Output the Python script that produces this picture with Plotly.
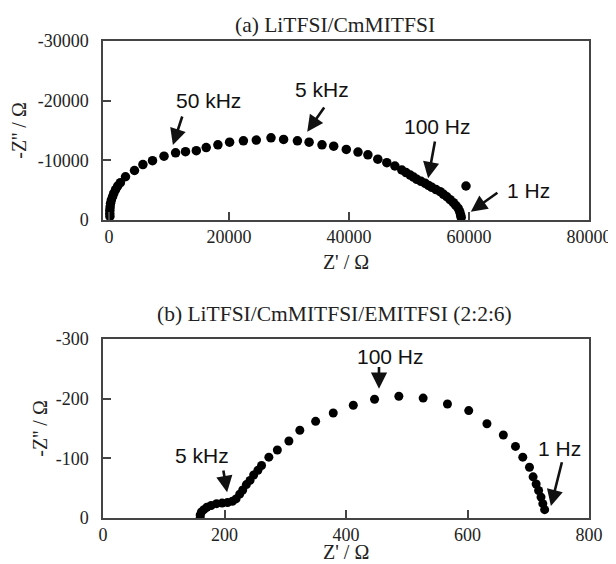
import plotly.graph_objects as go

# ---------------- data ----------------
# (a) LiTFSI/CmMITFSI
a_zre = [150, 130, 140, 190, 260, 390, 590, 790, 1100, 1450, 1900, 2750, 4250, 5650, 7250,
         9170, 11100, 12750, 14550, 16200, 18150, 20100, 22400, 24550, 27000, 29100, 31400,
         33350, 35500, 37450, 39550, 41500, 43150, 44800, 46300, 47650, 48800, 49500, 50200,
         50750, 51300, 52000, 52700, 53250, 53800, 54500, 55200, 55750, 56300, 56850, 57400,
         57800, 58200, 58450, 58600, 58700, 59500]
a_zim = [-600, -1100, -1650, -2200, -2800, -3350, -3900, -4450, -5100, -5700, -6250, -7250,
         -8300, -9300, -9950, -10700, -11270, -11450, -11620, -12150, -12600, -13050, -13280,
         -13400, -13780, -13500, -13280, -13050, -12600, -12380, -11820, -11380, -10930,
         -10200, -9600, -9050, -8380, -7950, -7540, -7200, -6820, -6480, -6150, -5800, -5480,
         -5100, -4750, -4300, -3900, -3400, -2900, -2450, -1960, -1400, -850, -450, -5700]

# (b) LiTFSI/CmMITFSI/EMITFSI (2:2:6)
b_zre = [160, 160, 162, 166, 171, 178, 187, 196, 205, 213, 219, 225, 230, 236, 242, 248, 255,
         261, 273, 287, 306, 324, 350, 379, 412, 447, 487, 527, 567, 602, 632, 659, 679, 691,
         702, 708, 713, 717, 721, 724, 727]
b_zim = [-1, -5, -10, -14, -18, -21, -24, -25, -26, -28, -32, -40, -47, -56, -63, -72, -80,
         -88, -102, -114, -129, -147, -162, -176, -189, -199, -204, -201, -191, -180, -158,
         -139, -120, -102, -85, -69, -57, -46, -35, -24, -14]

# tick labels
a_xticks = [0, 20000, 40000, 60000, 80000]
a_xtext = ["0", "20000", "40000", "60000", "80000"]
a_yticks = [0, -10000, -20000, -30000]
a_ytext = ["0", "-10000", "-20000", "-30000"]
b_xticks = [0, 200, 400, 600, 800]
b_xtext = ["0", "200", "400", "600", "800"]
b_yticks = [0, -100, -200, -300]
b_ytext = ["0", "-100", "-200", "-300"]

# frequency labels: text, text position, arrow tail, arrow tip
a_labels = ["50 kHz", "5 kHz", "100 Hz", "1 Hz"]
a_text_x = [16500, 35500, 54830, 69880]
a_text_y = [-20100, -21790, -15750, -5030]
a_tail_x = [12290, 36040, 54370, 64980]
a_tail_y = [-17600, -19110, -13410, -4750]
a_tip_x = [10650, 33040, 53190, 60300]
a_tip_y = [-12570, -14800, -6990, -1400]

b_labels = ["5 kHz", "100 Hz", "1 Hz"]
b_text_x = [163.4, 473.7, 751.6]
b_text_y = [-104.4, -270, -117.2]
b_tail_x = [197.7, 454.3, 756]
b_tail_y = [-82.2, -255.6, -96]
b_tip_x = [204.3, 454.3, 737.3]
b_tip_y = [-43.3, -216.7, -20]

# ---------------- figure ----------------
SERIF = "Liberation Serif, Times New Roman, serif"
SANS = "Liberation Sans, Arial, sans-serif"
AX = "#444444"
TXT = "#222222"

fig = go.Figure()
fig.add_trace(go.Scatter(x=a_zre, y=a_zim, mode="markers", xaxis="x", yaxis="y",
                         marker=dict(color="black", size=9.5), showlegend=False))
fig.add_trace(go.Scatter(x=b_zre, y=b_zim, mode="markers", xaxis="x2", yaxis="y2",
                         marker=dict(color="black", size=9), showlegend=False))

axis_common = dict(showline=True, linecolor=AX, linewidth=1.5, mirror=True,
                   ticks="inside", ticklen=8, tickwidth=1.5, tickcolor=AX,
                   showgrid=False, zeroline=False, automargin=False,
                   tickfont=dict(family=SERIF, size=18, color=TXT))
title_font = dict(family=SERIF, size=20, color=TXT)

# the page body adds an 8px offset, so the figure is 608x556 inside the 616x564 window
fig.update_layout(
    width=608, height=556,
    margin=dict(l=95, r=27, t=33, b=46),
    plot_bgcolor="white", paper_bgcolor="white",
    xaxis=dict(domain=[0, 1], anchor="y", range=[-1000, 80000],
               tickvals=a_xticks, ticktext=a_xtext,
               title=dict(text="Z' / Ω", font=title_font, standoff=9),
               **axis_common),
    yaxis=dict(domain=[0.6247, 1], anchor="x", range=[0, -30000],
               tickvals=a_yticks, ticktext=a_ytext, ticklabelstandoff=9,
               title=dict(text="-Z'' / Ω", font=title_font, standoff=8),
               **axis_common),
    xaxis2=dict(domain=[0, 1], anchor="y2", range=[0, 800],
                tickvals=b_xticks, ticktext=b_xtext,
                **axis_common),
    yaxis2=dict(domain=[0, 0.3753], anchor="x2", range=[0, -300],
                tickvals=b_yticks, ticktext=b_ytext, ticklabelstandoff=9,
                title=dict(text="-Z'' / Ω", font=title_font, standoff=3),
                **axis_common),
)

anns = []
# panel titles
anns.append(dict(text="(a) LiTFSI/CmMITFSI", xref="paper", yref="paper", x=0.477, y=1.0335,
                 xanchor="center", yanchor="middle", showarrow=False,
                 font=dict(family=SERIF, size=21.5, color=TXT)))
anns.append(dict(text="(b) LiTFSI/CmMITFSI/EMITFSI (2:2:6)", xref="paper", yref="paper",
                 x=0.477, y=0.4277, xanchor="center", yanchor="middle", showarrow=False,
                 font=dict(family=SERIF, size=21.5, color=TXT)))
# bottom x-axis title (placed just above the figure's lower edge)
anns.append(dict(text="Z' / Ω", xref="paper", yref="paper", x=0.5, y=-0.0705,
                 xanchor="center", yanchor="middle", showarrow=False, font=title_font))


def add_labels(labels, tx, ty, ax_, ay_, px, py, xr, yr):
    for i, lab in enumerate(labels):
        anns.append(dict(text=lab, x=tx[i], y=ty[i], xref=xr, yref=yr, showarrow=False,
                         xanchor="center", yanchor="middle",
                         font=dict(family=SANS, size=21, color="#111")))
        anns.append(dict(text="", x=px[i], y=py[i], xref=xr, yref=yr,
                         ax=ax_[i], ay=ay_[i], axref=xr, ayref=yr, showarrow=True,
                         arrowhead=2, arrowsize=1.25, arrowwidth=2.6, arrowcolor="#111",
                         standoff=0, startstandoff=0))


add_labels(a_labels, a_text_x, a_text_y, a_tail_x, a_tail_y, a_tip_x, a_tip_y, "x", "y")
add_labels(b_labels, b_text_x, b_text_y, b_tail_x, b_tail_y, b_tip_x, b_tip_y, "x2", "y2")
fig.update_layout(annotations=anns)

fig.write_html("out.html")
